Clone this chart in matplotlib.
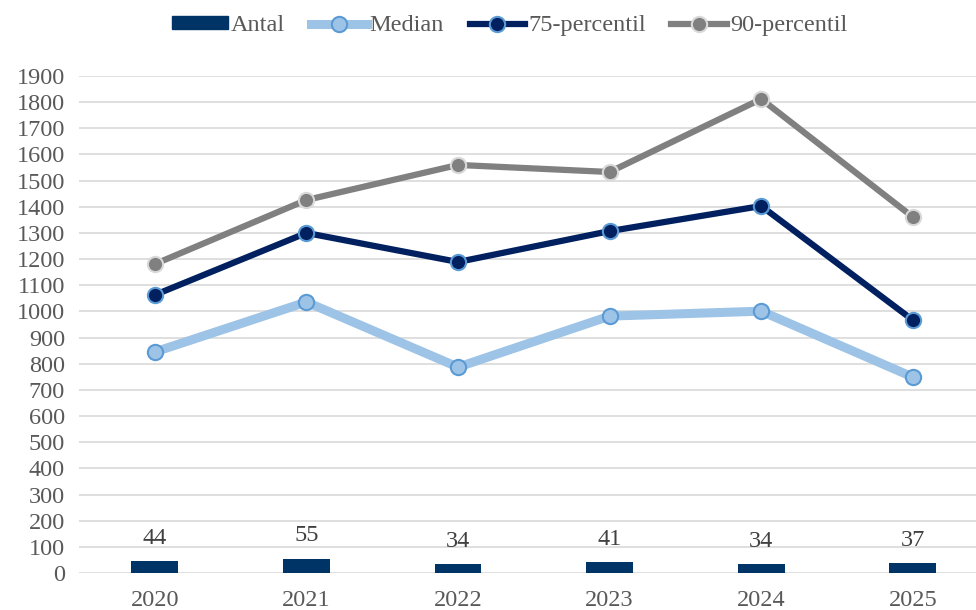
import numpy as np
import matplotlib.pyplot as plt
from matplotlib.lines import Line2D
from matplotlib.patches import Patch

plt.rcParams['font.family'] = ['Liberation Serif', 'DejaVu Serif']

years = ["2020", "2021", "2022", "2023", "2024", "2025"]
antal = [44, 55, 34, 41, 34, 37]
median = [845, 1036, 787, 982, 1001, 749]
p75 = [1063, 1300, 1189, 1307, 1403, 967]
p90 = [1181, 1426, 1560, 1533, 1812, 1361]

fig = plt.figure(figsize=(9.76, 6.10), dpi=100)
ax = fig.add_axes([79/976, 37/610, 1 - 79/976, 497/610])

x = np.arange(len(years))
ax.bar(x, antal, width=0.31, color="#003366", zorder=2)
for xi, v in zip(x, antal):
    ax.annotate(str(v), (xi, v), xytext=(0, 9), textcoords="offset points",
                ha="center", va="bottom", fontsize=17.5, color="#404040")

ax.plot(x, median, color="#9dc3e6", lw=6.5, marker="o", ms=11,
        mfc="#9dc3e6", mec="#5b9bd5", mew=1.5, zorder=3)
ax.plot(x, p75, color="#002060", lw=4.5, marker="o", ms=11,
        mfc="#002060", mec="#5b9bd5", mew=1.5, zorder=4)
ax.plot(x, p90, color="#808080", lw=4.5, marker="o", ms=11,
        mfc="#808080", mec="#d9d9d9", mew=1.5, zorder=4)

ax.set_ylim(0, 1900)
ax.set_yticks(range(0, 2000, 100))
ax.set_xlim(-0.5, -0.5 + 897/151.6)
ax.set_xticks(x)
ax.set_xticklabels(years)
ax.tick_params(length=0, labelsize=17.5, labelcolor="#595959", pad=12)
ax.tick_params(axis="y", pad=10)
ax.yaxis.grid(True, color="#d9d9d9", lw=1.2, zorder=0)
ax.set_axisbelow(True)
for s in ax.spines.values():
    s.set_visible(False)

handles = [
    Patch(color="#003366"),
    Line2D([], [], color="#9dc3e6", lw=6.5, marker="o", ms=11, mfc="#9dc3e6", mec="#5b9bd5", mew=1.5),
    Line2D([], [], color="#002060", lw=4.5, marker="o", ms=11, mfc="#002060", mec="#5b9bd5", mew=1.5),
    Line2D([], [], color="#808080", lw=4.5, marker="o", ms=11, mfc="#808080", mec="#d9d9d9", mew=1.5),
]
leg = fig.legend(handles, ["Antal", "Median", "75-percentil", "90-percentil"],
                 loc="center", bbox_to_anchor=(0.5225, 0.958), ncol=4, frameon=False,
                 fontsize=17.5, handlelength=2.3, handletextpad=0.12, columnspacing=1.05,
                 handleheight=0.45)
for t in leg.get_texts():
    t.set_color("#595959")

fig.savefig("out.png", dpi=100)
